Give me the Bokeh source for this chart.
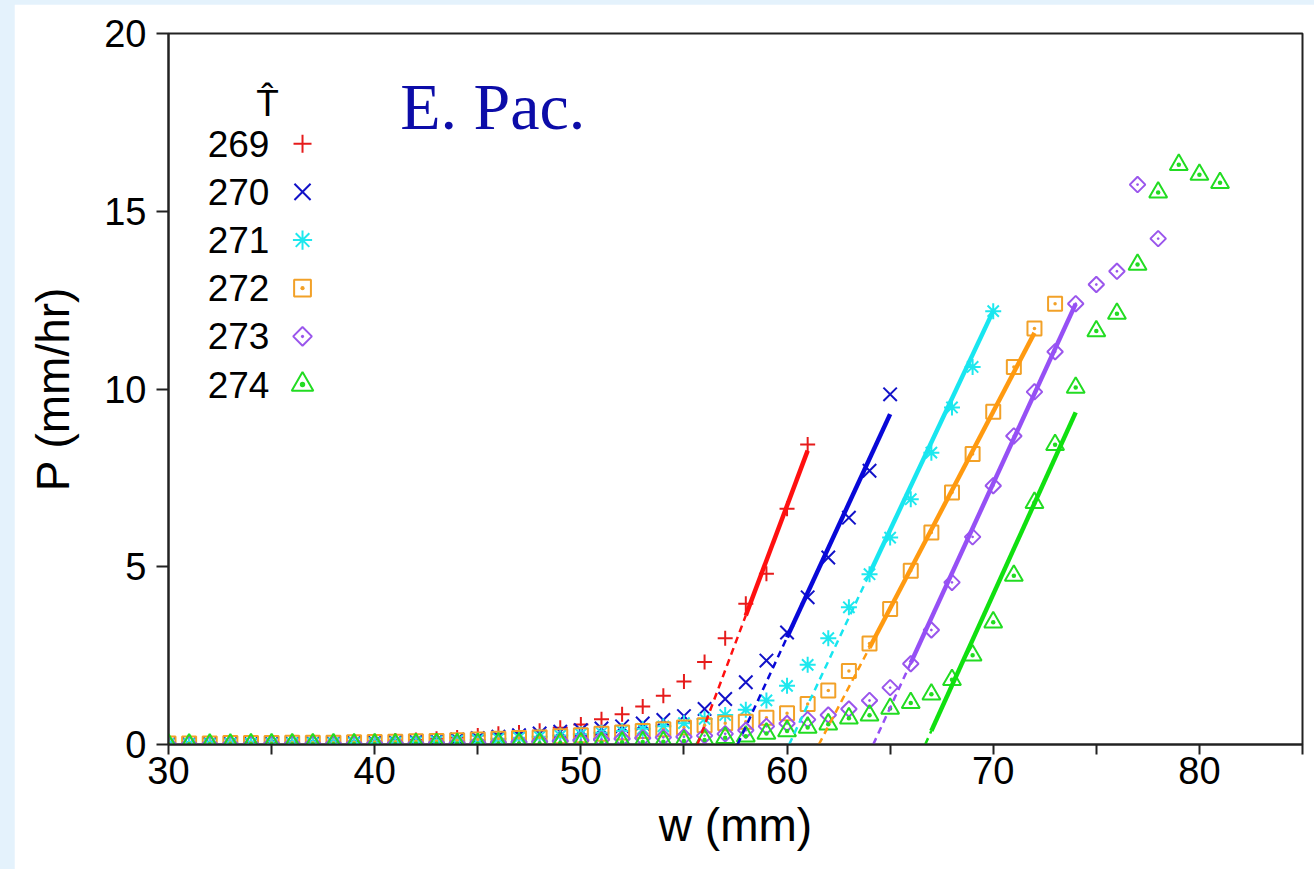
import math
from bokeh.plotting import figure
from bokeh.models import Range1d, FixedTicker, Label
from bokeh.layouts import column
from bokeh.embed import file_html
from bokeh.resources import INLINE

# ---------------- data ----------------
temps = ["269", "270", "271", "272", "273", "274"]

w_269 = list(range(30, 62))
P_269 = [0.02, 0.02, 0.03, 0.03, 0.04, 0.04, 0.05, 0.06, 0.07, 0.08,
         0.09, 0.11, 0.13, 0.16, 0.20, 0.25, 0.30, 0.34, 0.39, 0.47,
         0.56, 0.71, 0.85, 1.07, 1.37, 1.77, 2.32, 2.99, 3.96, 4.80,
         6.63, 8.44]

w_270 = list(range(30, 66))
P_270 = [0.01, 0.01, 0.02, 0.02, 0.02, 0.03, 0.03, 0.04, 0.04, 0.05,
         0.06, 0.07, 0.09, 0.11, 0.14, 0.18, 0.22, 0.26, 0.31, 0.36,
         0.40, 0.45, 0.51, 0.59, 0.69, 0.80, 1.00, 1.28, 1.75, 2.36,
         3.15, 4.14, 5.26, 6.38, 7.70, 9.85]

w_271 = list(range(30, 71))
P_271 = [0.01, 0.01, 0.01, 0.02, 0.02, 0.02, 0.03, 0.03, 0.03, 0.04,
         0.04, 0.05, 0.06, 0.08, 0.10, 0.13, 0.16, 0.19, 0.22, 0.25,
         0.29, 0.33, 0.38, 0.44, 0.51, 0.60, 0.72, 0.83, 0.98, 1.24,
         1.65, 2.24, 2.99, 3.86, 4.79, 5.82, 6.90, 8.21, 9.48, 10.62,
         12.19]

w_272 = list(range(30, 74))
P_272 = [0.03, 0.03, 0.03, 0.04, 0.04, 0.04, 0.05, 0.05, 0.05, 0.06,
         0.07, 0.08, 0.09, 0.10, 0.12, 0.14, 0.16, 0.18, 0.20, 0.23,
         0.26, 0.30, 0.34, 0.38, 0.43, 0.48, 0.54, 0.60, 0.64, 0.75,
         0.88, 1.14, 1.52, 2.07, 2.84, 3.81, 4.89, 5.96, 7.09, 8.17,
         9.36, 10.62, 11.70, 12.40]

w_273 = list(range(30, 79))
P_273 = [0.01, 0.01, 0.01, 0.01, 0.01, 0.02, 0.02, 0.02, 0.02, 0.02,
         0.03, 0.03, 0.03, 0.04, 0.04, 0.05, 0.06, 0.07, 0.08, 0.10,
         0.12, 0.14, 0.16, 0.18, 0.20, 0.22, 0.25, 0.30, 0.40, 0.51,
         0.59, 0.70, 0.83, 1.00, 1.24, 1.60, 2.27, 3.22, 4.56, 5.84,
         7.28, 8.68, 9.92, 11.05, 12.40, 12.94, 13.31, 15.75, 14.23]

w_274 = list(range(30, 82))
P_274 = [0.00, 0.00, 0.00, 0.00, 0.01, 0.01, 0.01, 0.01, 0.01, 0.01,
         0.01, 0.01, 0.02, 0.02, 0.02, 0.02, 0.03, 0.03, 0.03, 0.04,
         0.04, 0.05, 0.06, 0.07, 0.08, 0.10, 0.13, 0.19, 0.23, 0.31,
         0.38, 0.48, 0.57, 0.74, 0.82, 1.01, 1.17, 1.41, 1.82, 2.51,
         3.44, 4.75, 6.80, 8.43, 10.04, 11.63, 12.12, 13.50, 15.53, 16.31,
         16.03, 15.80]

# linear fits P = slope * (w - wc)
fit_wc = [55.65, 57.6, 60.1, 61.54, 64.18, 66.7]
fit_slope = [1.545, 1.256, 1.232, 1.107, 1.262, 1.28]
fit_solid_from = [58, 60, 64, 64, 66, 67]
fit_to = [61, 65, 70, 72, 74, 74]

x_ticks = [30, 40, 50, 60, 70, 80]
x_minor_ticks = [35, 45, 55, 65, 75, 85]
y_ticks = [0, 5, 10, 15, 20]

# ---------------- style ----------------
series_w = [w_269, w_270, w_271, w_272, w_273, w_274]
series_P = [P_269, P_270, P_271, P_272, P_273, P_274]
marker_colors = ["#e61b1b", "#1212c8", "#1ee8ee", "#f2a128", "#9a56ec", "#22dc22"]
line_colors = ["#ff1010", "#0808d8", "#18e6f0", "#ff9a10", "#9650f5", "#10e010"]
markers = ["cross", "x", "asterisk", "square_dot", "square_dot", "triangle_dot"]
m_sizes = [15, 19, 16, 14, 11, 18]
m_angles = [0, 0, 0, 0, math.pi / 4, 0]

FONT = "Liberation Sans"

p = figure(width=1300, height=865,
           x_range=Range1d(30, 85), y_range=Range1d(0, 20),
           output_backend="svg", toolbar_location=None,
           min_border_left=154, min_border_right=12,
           min_border_top=29, min_border_bottom=125,
           background_fill_color="white", border_fill_color="white")
p.margin = (4, 0, 0, 14)
p.grid.visible = False
p.outline_line_color = "#222222"
p.outline_line_width = 2

xa = p.xaxis[0]
xa.ticker = FixedTicker(ticks=x_ticks, minor_ticks=x_minor_ticks)
ya = p.yaxis[0]
ya.ticker = FixedTicker(ticks=y_ticks)
for ax in (xa, ya):
    ax.axis_line_width = 2
    ax.axis_line_color = "#222222"
    ax.major_tick_line_width = 2
    ax.major_tick_line_color = "#222222"
    ax.major_tick_in = 0
    ax.major_label_text_font = FONT
    ax.major_label_text_font_size = "38px"
    ax.major_label_text_color = "black"
    ax.axis_label_text_font = FONT
    ax.axis_label_text_font_size = "46px"
    ax.axis_label_text_font_style = "normal"
    ax.axis_label_text_color = "black"
xa.major_tick_out = 10
xa.minor_tick_out = 10
xa.minor_tick_in = 0
xa.minor_tick_line_width = 2
xa.minor_tick_line_color = "#222222"
xa.major_label_standoff = 2
xa.axis_label = "w (mm)"
xa.axis_label_standoff = 12
ya.major_tick_out = 12
ya.minor_tick_line_color = None
ya.major_label_standoff = 10
ya.axis_label = "P (mm/hr)"
ya.axis_label_standoff = 22

# data markers
for i in range(6):
    p.scatter(series_w[i], series_P[i], marker=markers[i], size=m_sizes[i],
              angle=m_angles[i], fill_color=None, line_color=marker_colors[i],
              line_width=2)

# fit lines
for i in range(6):
    wc, s, ws, we = fit_wc[i], fit_slope[i], fit_solid_from[i], fit_to[i]
    p.line([wc, ws], [0, s * (ws - wc)], line_color=line_colors[i],
           line_width=2.5, line_dash="7 5")
    p.line([ws, we], [s * (ws - wc), s * (we - wc)], line_color=line_colors[i],
           line_width=4.5)

# legend (labels left, markers right)
LEG_TEXT_X = 31.9
LEG_MARK_X = 36.5
LEG_Y0 = 16.9
LEG_DY = 1.355
for i in range(6):
    yy = LEG_Y0 - i * LEG_DY
    p.add_layout(Label(x=LEG_TEXT_X, y=yy, text=temps[i], text_font=FONT,
                       text_font_size="37px", text_color="black",
                       text_baseline="middle", text_align="left"))
    p.scatter([LEG_MARK_X], [yy], marker=markers[i], size=m_sizes[i] * 1.2,
              angle=m_angles[i], fill_color=None, line_color=marker_colors[i],
              line_width=2)
p.add_layout(Label(x=34.8, y=18.03, text="T\u0302", text_font=FONT,
                   text_font_size="37px", text_color="black",
                   text_baseline="alphabetic", text_align="center"))

# panel title
p.add_layout(Label(x=41.24, y=17.95, text="E. Pac.", text_font="Liberation Serif",
                   text_font_size="66px", text_color="#0c0ca8",
                   text_baseline="alphabetic", text_align="left"))

layout = column(p, styles={"background-color": "#e4f2fc"})
open("out.html", "w").write(file_html(layout, INLINE))
